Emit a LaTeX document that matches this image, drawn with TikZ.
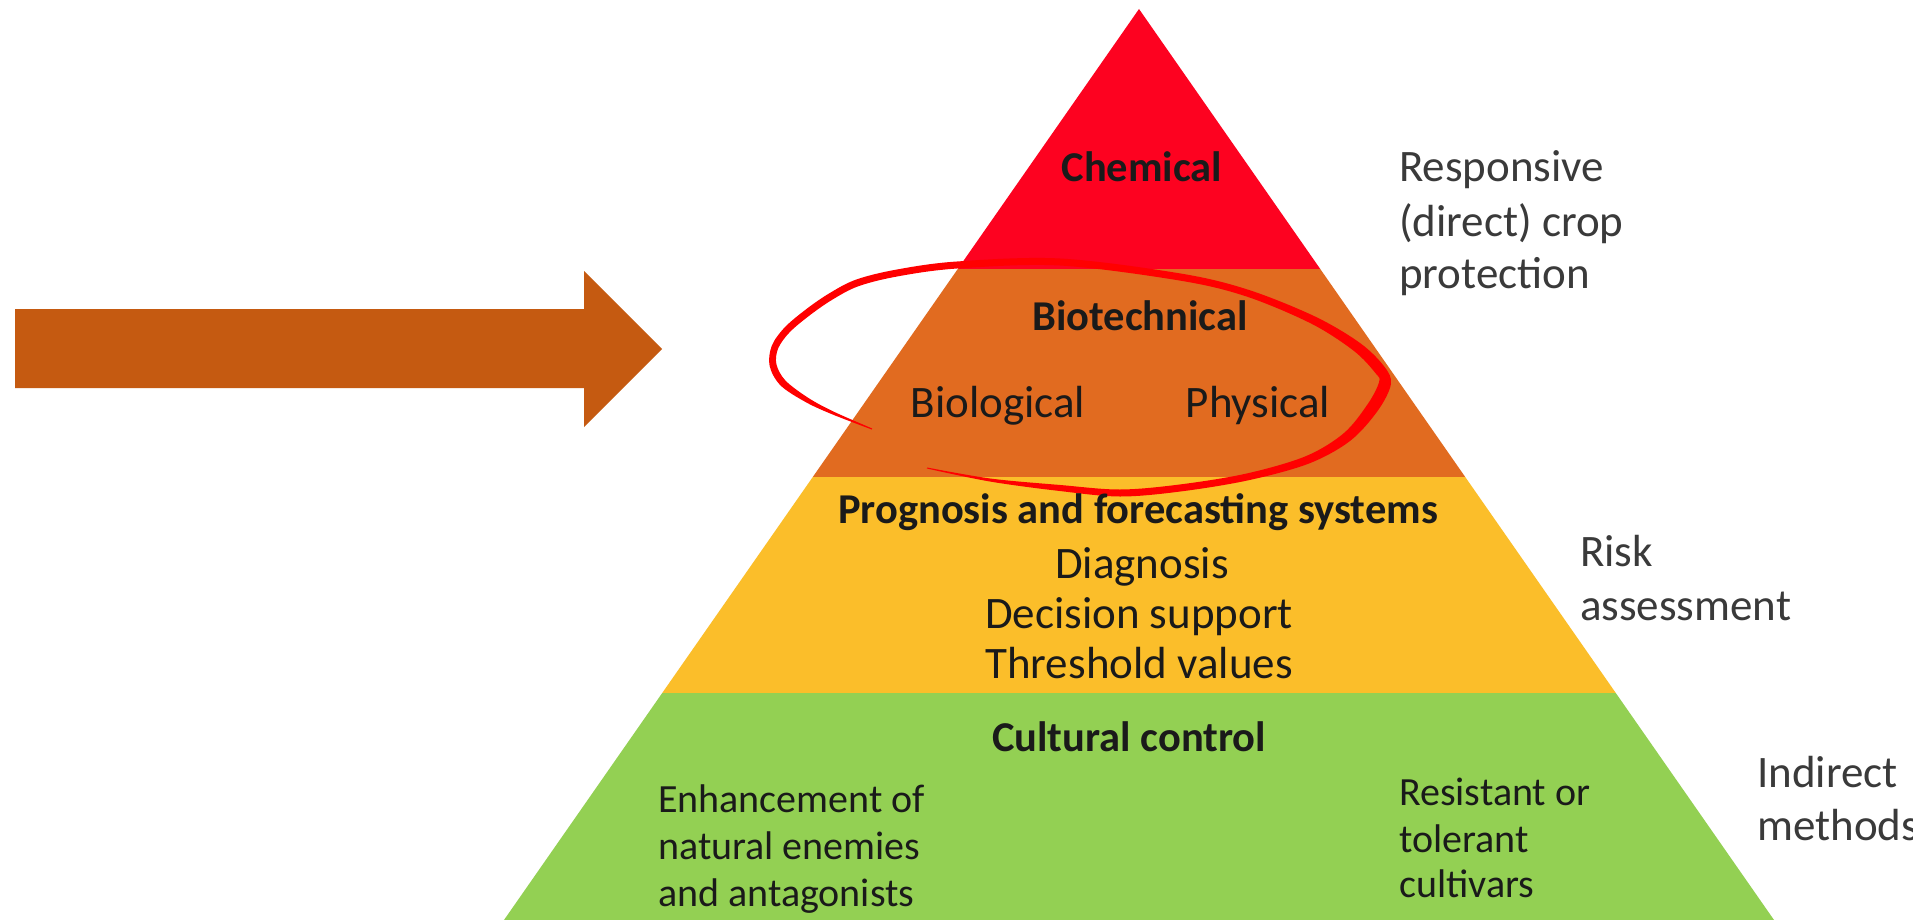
\documentclass[tikz,border=0pt]{standalone}
\usepackage{fontspec}
\setmainfont{Carlito}
\definecolor{chemred}{HTML}{FD0220}
\definecolor{bioorange}{HTML}{E16B20}
\definecolor{riskyellow}{HTML}{FBBE2A}
\definecolor{cultgreen}{HTML}{93D053}
\definecolor{arroworange}{HTML}{C55A11}
\definecolor{ellred}{HTML}{FF0000}
\definecolor{sidegray}{HTML}{3A3A3A}
\definecolor{bandtext}{HTML}{1A1A1A}
\begin{document}
\begin{tikzpicture}[x=1pt,y=-1pt,
  band/.style={inner sep=0pt, text=bandtext},
  boldlbl/.style={band, anchor=base, font=\fontsize{42.5}{50}\selectfont\bfseries},
  reglbl/.style={band, anchor=base, font=\fontsize{45}{53}\selectfont},
  smalllbl/.style={band, anchor=base west, font=\fontsize{40}{47}\selectfont},
  sidelbl/.style={inner sep=0pt, anchor=base west, text=sidegray, font=\fontsize{45}{53}\selectfont}]
\clip (0,0) rectangle (1913,920);
\fill[white] (0,0) rectangle (1913,920);
% pyramid bands
\begin{scope}
  \clip (1139,9) -- (500.5,925) -- (1777.5,925) -- cycle;
  \fill[chemred]    (400,0)   rectangle (1900,269);
  \fill[bioorange]  (400,269) rectangle (1900,477);
  \fill[riskyellow] (400,477) rectangle (1900,693);
  \fill[cultgreen]  (400,693) rectangle (1900,930);
\end{scope}
% block arrow
\fill[arroworange] (15,309) -- (584,309) -- (584,271) -- (662,349) -- (584,427) -- (584,388) -- (15,388) -- cycle;
% hand-drawn ellipse as a tapered brush stroke
\fill[ellred]
  plot[smooth, tension=0.55] coordinates {
  (871.8,429.5) (832.4,414.4) (805.7,402.1) (780.5,385.4) (769.6,365.8) (771.8,345.7)
  (784.5,327.6) (804.9,310.2) (828.2,294.0) (855.8,279.7) (896.4,269.6) (956.8,261.5)
  (1060.2,258.5) (1180.6,273.5) (1248.1,289.7) (1314.8,316.4) (1360.0,343.0) (1384.3,366.6)
  (1390.9,384.1) (1377.9,410.5) (1350.1,440.9) (1308.5,463.7) (1247.8,480.4) (1180.4,491.5)
  (1120,496.5) (1059.7,491.0) (989.8,481.5) (926.9,468.5)}
  -- plot[smooth, tension=0.55] coordinates {
  (927.1,467.5) (990.2,478.5) (1060.3,485.0) (1120,489.5) (1179.6,484.5) (1246.2,473.6)
  (1305.5,456.3) (1343.9,433.1) (1368.1,403.5) (1379.1,381.9) (1375.7,373.4) (1354.0,351.0)
  (1311.2,323.6) (1245.9,296.3) (1179.4,280.5) (1059.8,265.5) (957.2,268.5) (897.6,276.4)
  (858.2,286.3) (831.8,300.0) (809.1,315.8) (789.5,332.4) (778.2,348.3) (776.4,364.2)
  (785.5,380.6) (808.3,397.9) (833.6,411.6) (872.2,428.5)}
  -- cycle;
% band labels
\node[boldlbl] (chem)    at (1142,182) {Chemical};
\node[boldlbl] (biotech) at (1140,330) {Biotechnical};
\node[reglbl]  (biol)    at (998,417)  {Biological};
\node[reglbl]  (phys)    at (1258,417) {Physical};
\node[boldlbl] (progn)   at (1138,523) {Prognosis and forecasting systems};
\node[reglbl]  (diag)    at (1142,578) {Diagnosis};
\node[reglbl]  (decis)   at (1139,628) {Decision support};
\node[reglbl]  (thresh)  at (1139,678) {Threshold values};
\node[boldlbl] (cult)    at (1129,751) {Cultural control};
\node[smalllbl] (enhA) at (658,812) {Enhancement of};
\node[smalllbl] (enhB) at (658,859) {natural enemies};
\node[smalllbl] (enhC) at (658,906) {and antagonists};
\node[smalllbl] (resA) at (1399,805) {Resistant or};
\node[smalllbl] (resB) at (1399,852) {tolerant};
\node[smalllbl] (resC) at (1399,897) {cultivars};
% side labels
\node[sidelbl] (respA) at (1399,182) {Responsive};
\node[sidelbl] (respB) at (1399,236) {(direct) crop};
\node[sidelbl] (respC) at (1399,288) {protection};
\node[sidelbl] (riskA) at (1580,566) {Risk};
\node[sidelbl] (riskB) at (1580,620) {assessment};
\node[sidelbl] (indA)  at (1757,787) {Indirect};
\node[sidelbl] (indB)  at (1757,840) {methods};
\end{tikzpicture}
\end{document}
